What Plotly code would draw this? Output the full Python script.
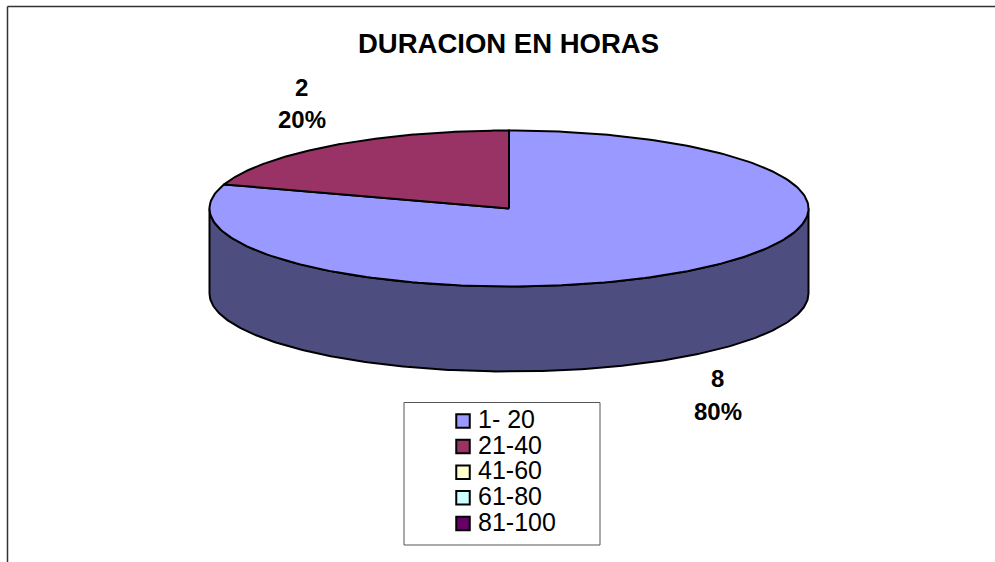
import numpy as np
import plotly.graph_objects as go

title = "DURACION EN HORAS"
categories = ["1- 20", "21-40", "41-60", "61-80", "81-100"]
values = [8, 2, 0, 0, 0]
top_colors = ["#9999FF", "#993366", "#FFFFCC", "#CCFFFF", "#660066"]
side_colors = ["#4D4D80", "#4D1A33", "#808066", "#668080", "#330033"]

W, H = 995, 562
CX, CY, RX, RY, DEPTH = 509, 208.5, 299.5, 78, 85
FONT = "Liberation Sans, Arial, sans-serif"
EDGE = dict(color="black", width=2)


def rim(a0, a1, n=240):
    th = np.radians(np.linspace(a0, a1, n))
    return CX + RX * np.sin(th), CY - RY * np.cos(th)


fig = go.Figure()
total = sum(values)
cum = np.cumsum([0] + values) / total * 360

# side wall: visible front half of each slice
for i, v in enumerate(values):
    if not v:
        continue
    a0, a1 = max(cum[i], 90), min(cum[i + 1], 270)
    if a1 <= a0:
        continue
    x, y = rim(a0, a1)
    fig.add_trace(go.Scatter(
        x=np.r_[x, x[::-1], x[0]], y=np.r_[y, y[::-1] + DEPTH, y[0]],
        mode="lines", fill="toself", fillcolor=side_colors[i], line=EDGE,
        hoverinfo="skip", showlegend=False))

# top face slices
for i, v in enumerate(values):
    if not v:
        continue
    x, y = rim(cum[i], cum[i + 1])
    fig.add_trace(go.Scatter(
        x=np.r_[CX, x, CX], y=np.r_[CY, y, CY],
        mode="lines", fill="toself", fillcolor=top_colors[i], line=EDGE,
        name=categories[i], hoverinfo="name", showlegend=False))

# data labels
label_pos = {0: (717.5, 378, 411), 1: (301.5, 87, 119)}
ann = [dict(x=508.5, y=43, text=f"<b>{title}</b>", showarrow=False,
            font=dict(family=FONT, size=27.5, color="black"))]
for i, (lx, y1, y2) in label_pos.items():
    ann.append(dict(x=lx, y=y1, text=f"<b>{values[i]}</b>", showarrow=False,
                    font=dict(family=FONT, size=24, color="black")))
    ann.append(dict(x=lx, y=y2, text=f"<b>{values[i] / total:.0%}</b>", showarrow=False,
                    font=dict(family=FONT, size=24, color="black")))

# legend
LX, LY, LSTEP, LTEXT = 463, 421, 25.6, 478
ly = [LY + k * LSTEP for k in range(len(categories))]
fig.add_trace(go.Scatter(
    x=[LX] * len(categories), y=ly, mode="markers",
    marker=dict(symbol="square", size=13.5, color=top_colors, line=dict(color="black", width=2)),
    hoverinfo="skip", showlegend=False))
fig.add_trace(go.Scatter(
    x=[LTEXT] * len(categories), y=[v + 1 for v in ly], mode="text",
    text=categories, textposition="middle right",
    textfont=dict(family=FONT, size=25, color="black"),
    hoverinfo="skip", showlegend=False))

shapes = [
    dict(type="rect", x0=404, x1=600, y0=402.5, y1=545, line=dict(color="#555555", width=1), fillcolor="rgba(0,0,0,0)"),
    dict(type="line", x0=7.5, x1=995, y0=6.5, y1=6.5, line=dict(color="#333333", width=1.5)),
    dict(type="line", x0=7.5, x1=7.5, y0=6.5, y1=562, line=dict(color="#333333", width=1.5)),
]

axis = dict(visible=False, fixedrange=True)
fig.update_layout(
    width=W, height=H, margin=dict(l=0, r=0, t=0, b=0),
    paper_bgcolor="white", plot_bgcolor="white", showlegend=False,
    xaxis=dict(range=[0, W], **axis), yaxis=dict(range=[H, 0], **axis),
    annotations=ann, shapes=shapes,
)
fig.write_html("out.html", config={"displayModeBar": False},
               post_script="document.body.style.margin='0';document.body.style.overflow='hidden';")
